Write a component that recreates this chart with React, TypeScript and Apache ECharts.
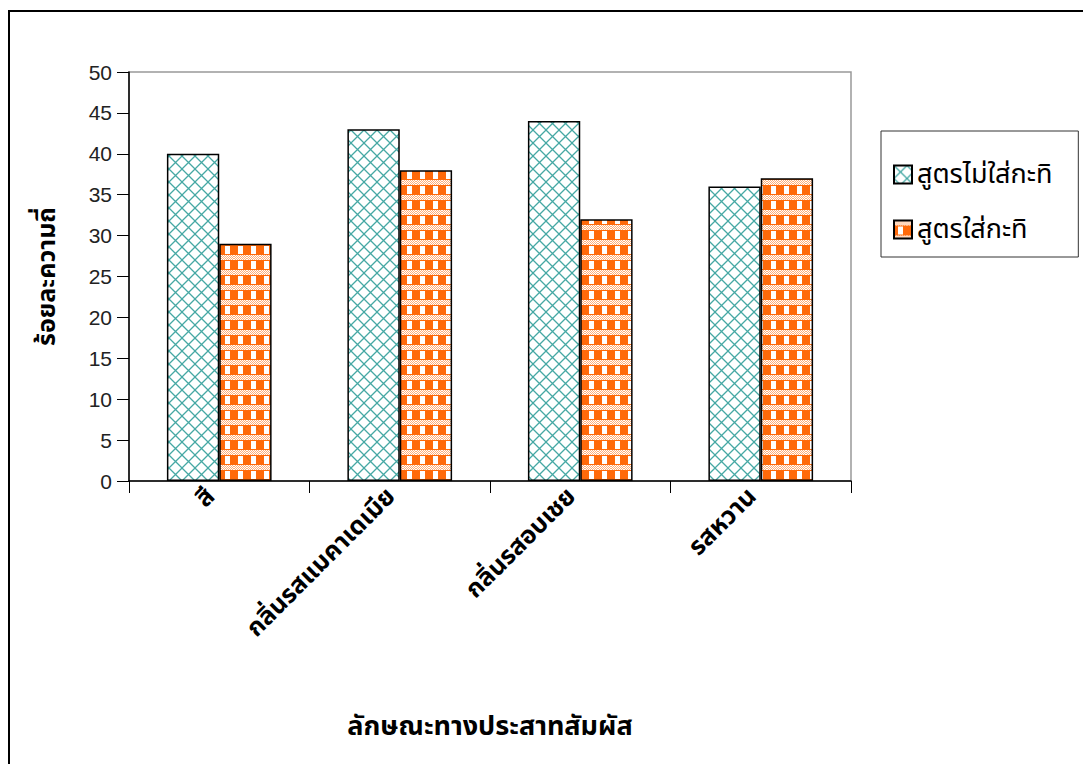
import React, { useEffect, useRef } from "react";
import * as echarts from "echarts";

const categories = ["สี", "กลิ่นรสแมคาเดเมีย", "กลิ่นรสอบเชย", "รสหวาน"];
const seriesNames = ["สูตรไม่ใส่กะทิ", "สูตรใส่กะทิ"];
const noCoconut = [40, 43, 44, 36];
const withCoconut = [29, 38, 32, 37];
const yTicks = { min: 0, max: 50, interval: 5 };
const xTitle = "ลักษณะทางประสาทสัมผัส";
const yTitle = "ร้อยละความถี่";

const THAI = "Tahoma, 'Noto Sans Thai', 'Noto Sans', sans-serif";
const NUM = "'Liberation Sans', Arial, sans-serif";

function makeTeal(): HTMLCanvasElement {
  const c = document.createElement("canvas");
  c.width = 13;
  c.height = 13;
  const g = c.getContext("2d")!;
  g.fillStyle = "#ffffff";
  g.fillRect(0, 0, 13, 13);
  g.strokeStyle = "#46a8a4";
  g.lineWidth = 1.3;
  g.beginPath();
  g.moveTo(-1, -1);
  g.lineTo(14, 14);
  g.moveTo(14, -1);
  g.lineTo(-1, 14);
  g.stroke();
  return c;
}

function makeOrange(): HTMLCanvasElement {
  const w = 13;
  const h = 15;
  const c = document.createElement("canvas");
  c.width = w;
  c.height = h;
  const g = c.getContext("2d")!;
  g.fillStyle = "#ff6a0a";
  g.fillRect(0, 0, w, h);
  g.fillStyle = "#ffb07a";
  g.fillRect(0, 0, w, 5);
  g.fillStyle = "#ffffff";
  for (let y = 0; y < 5; y++) {
    for (let x = 0; x < w; x++) {
      if ((x + y) % 2 === 0) g.fillRect(x, y, 1, 1);
    }
  }
  g.fillRect(4, 6, 5, 8);
  return c;
}

export default function App() {
  const ref = useRef<HTMLDivElement>(null);
  useEffect(() => {
    if (!ref.current) return;
    const chart = echarts.init(ref.current, undefined, { renderer: "svg" });
    const teal = makeTeal();
    const orange = makeOrange();
    chart.setOption({
      animation: false,
      backgroundColor: "#ffffff",
      graphic: [
        {
          type: "polyline",
          shape: { points: [[9, 800], [9, 11], [1100, 11]] },
          style: { stroke: "#000", lineWidth: 2, fill: "none" },
          silent: true,
        },
      ],
      legend: {
        orient: "vertical",
        left: 881,
        top: 131,
        padding: [30, 26, 14, 12],
        itemGap: 28,
        itemWidth: 18,
        itemHeight: 18,
        icon: "rect",
        borderColor: "#333",
        borderWidth: 1,
        textStyle: { fontFamily: THAI, fontSize: 27, color: "#000" },
        data: seriesNames,
      },
      grid: {
        left: 129,
        top: 72,
        width: 722,
        height: 409,
        show: true,
        borderColor: "#999",
        borderWidth: 1.5,
        containLabel: false,
      },
      xAxis: {
        type: "category",
        data: categories,
        name: xTitle,
        nameLocation: "middle",
        nameGap: 232,
        nameTextStyle: { fontFamily: THAI, fontSize: 27, fontWeight: "bold", color: "#000" },
        axisLine: { lineStyle: { color: "#000", width: 1.5 } },
        axisTick: { show: true, length: 12, lineStyle: { color: "#000", width: 1 } },
        axisLabel: {
          rotate: 45,
          margin: 20,
          verticalAlign: "bottom",
          fontFamily: THAI,
          fontSize: 25,
          fontWeight: "bold",
          color: "#000",
        },
      },
      yAxis: {
        type: "value",
        min: yTicks.min,
        max: yTicks.max,
        interval: yTicks.interval,
        name: yTitle,
        nameLocation: "middle",
        nameRotate: 90,
        nameGap: 70,
        nameTextStyle: { fontFamily: THAI, fontSize: 25, fontWeight: "bold", color: "#000" },
        axisLine: { show: true, lineStyle: { color: "#000", width: 1.5 } },
        axisTick: { show: true, length: 12, lineStyle: { color: "#000", width: 1 } },
        splitLine: { show: false },
        axisLabel: { margin: 17, fontFamily: NUM, fontSize: 21, color: "#222" },
      },
      series: [
        {
          name: seriesNames[0],
          type: "bar",
          data: noCoconut,
          barGap: "0%",
          barCategoryGap: "42%",
          itemStyle: {
            color: { image: teal, repeat: "repeat" },
            borderColor: "#000",
            borderWidth: 1.5,
          },
        },
        {
          name: seriesNames[1],
          type: "bar",
          data: withCoconut,
          barGap: "0%",
          barCategoryGap: "42%",
          itemStyle: {
            color: { image: orange, repeat: "repeat" },
            borderColor: "#000",
            borderWidth: 1.5,
          },
        },
      ],
    });
    return () => chart.dispose();
  }, []);
  return (
    <div
      ref={ref}
      style={{ position: "absolute", left: 0, top: 0, width: 1083, height: 764 }}
    />
  );
}
